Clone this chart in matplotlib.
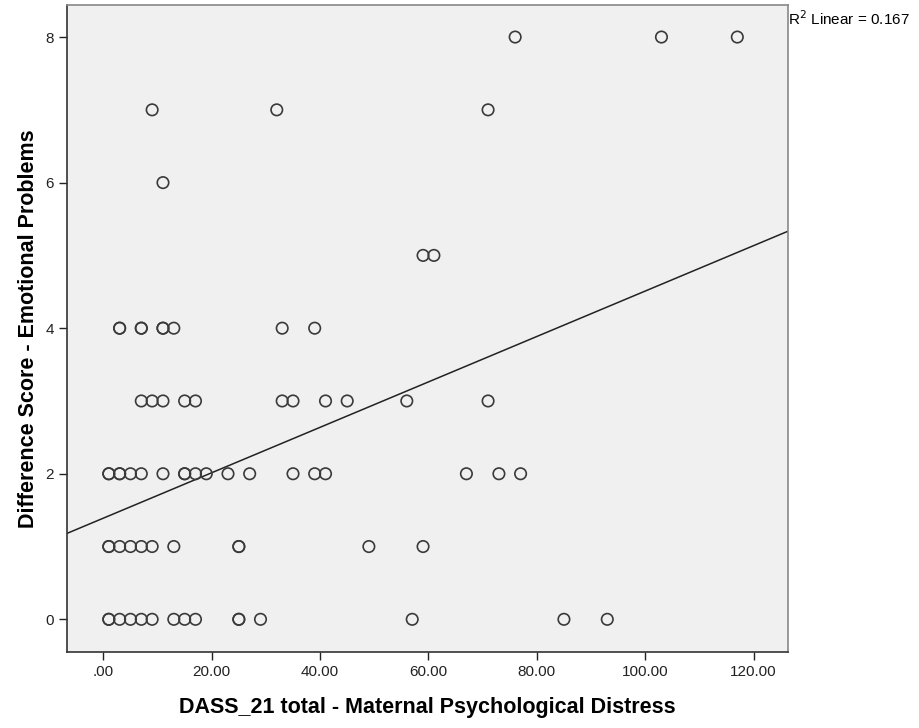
import numpy as np
import matplotlib
matplotlib.use("Agg")
import matplotlib.pyplot as plt

plt.rcParams['font.family'] = ['Liberation Sans', 'DejaVu Sans']

# Data (x = DASS_21 total, y = difference score)
x_y0 = [1, 1, 3, 5, 7, 9, 13, 15, 17, 25, 25, 29, 57, 85, 93]
x_y1 = [1, 1, 3, 5, 7, 9, 13, 25, 25, 49, 59]
x_y2 = [1, 1, 3, 3, 5, 7, 11, 15, 15, 17, 19, 23, 27, 35, 39, 41, 67, 73, 77]
x_y3 = [7, 9, 11, 15, 17, 33, 35, 41, 45, 56, 71]
x_y4 = [3, 3, 7, 7, 11, 11, 13, 33, 39]
x_y5 = [59, 61]
x_y6 = [11]
x_y7 = [9, 32, 71]
x_y8 = [76, 103, 117]

# Linear fit shown in the reference (hidden overlapping
# points make it impossible to recompute exactly)
fit_intercept = 1.39
fit_slope = 0.0312
r2_linear = 0.167

xticks = [0, 20, 40, 60, 80, 100, 120]
xtick_labels = ['.00', '20.00', '40.00', '60.00', '80.00', '100.00', '120.00']
yticks = [0, 2, 4, 6, 8]
ytick_labels = ['0', '2', '4', '6', '8']
xlim = (-6.65, 126.3)
ylim = (-0.445, 8.44)

rows = [x_y0, x_y1, x_y2, x_y3, x_y4, x_y5, x_y6, x_y7, x_y8]
xs = np.array([v for r in rows for v in r], dtype=float)
ys = np.array([i for i, r in enumerate(rows) for _ in r], dtype=float)

fig = plt.figure(figsize=(9.2, 7.28), dpi=100)
ax = fig.add_axes([0.0732, 0.1048, 0.7830, 0.8883])
ax.set_facecolor('#F0F0F0')

ax.scatter(xs, ys, s=68, facecolors='none', edgecolors='#3a3a3a', linewidths=1.2, zorder=3)

lx = np.array(xlim)
ax.plot(lx, fit_slope * lx + fit_intercept, color='#222222', linewidth=1.1, zorder=2)

ax.set_xlim(*xlim)
ax.set_ylim(*ylim)
ax.set_xticks(xticks)
ax.set_xticklabels(xtick_labels)
ax.set_yticks(yticks)
ax.set_yticklabels(ytick_labels)
ax.tick_params(direction='out', length=6, width=1, colors='#222222', labelsize=11)

for s in ['left', 'bottom']:
    ax.spines[s].set_color('#333333')
    ax.spines[s].set_linewidth(1.2)
for s in ['top', 'right']:
    ax.spines[s].set_color('#888888')
    ax.spines[s].set_linewidth(1.2)

ax.set_xlabel('DASS_21 total - Maternal Psychological Distress', fontsize=15.5,
              fontweight='bold', labelpad=13)
ax.set_ylabel('Difference Score - Emotional Problems', fontsize=15.5,
              fontweight='bold', labelpad=5)

fig.text(0.8565, 0.974, 'R$^2$ Linear = %.3f' % r2_linear, fontsize=11, ha='left', va='center')

fig.savefig('out.png', dpi=100, facecolor='white')
